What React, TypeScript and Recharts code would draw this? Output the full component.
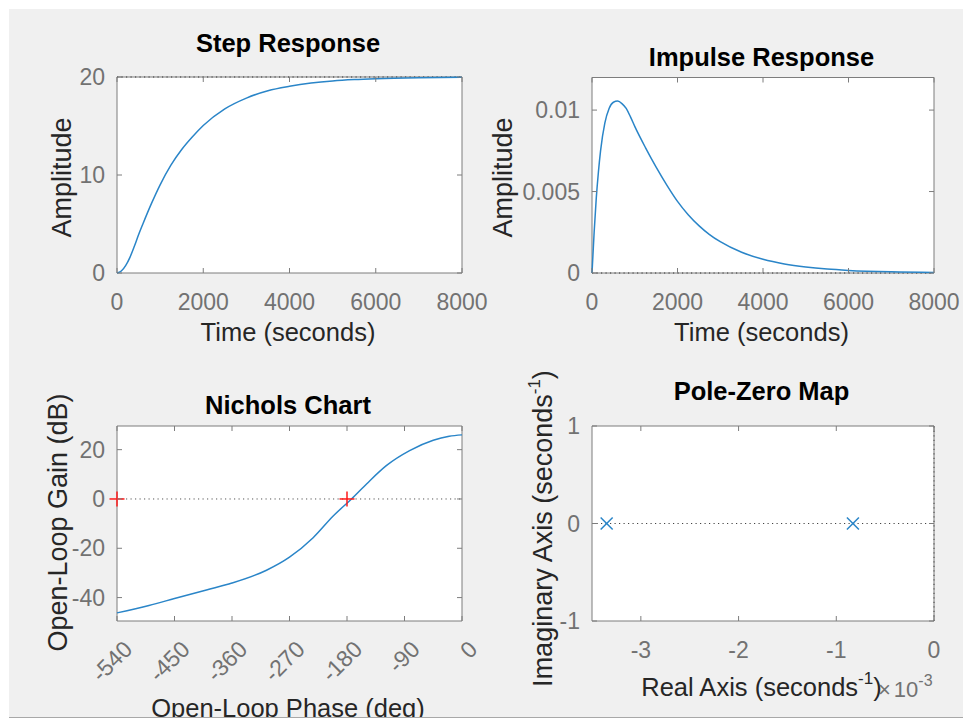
import React from 'react';
import {
  LineChart,
  ComposedChart,
  ScatterChart,
  Line,
  Scatter,
  XAxis,
  YAxis,
  CartesianGrid,
  ReferenceArea,
  ReferenceLine,
  Customized,
} from 'recharts';

const FONT = '"Liberation Sans", Arial, Helvetica, sans-serif';
const BLUE = '#2a85c8';
const RED = '#ff1a1a';
const FRAME = '#7d7d7d';
const TICK_COLOR = '#727272';
const LABEL_COLOR = '#262626';
const DOTTED = '1.2 3.3';

// step response
const STEP_TIME = [0, 100, 200, 300, 400, 500, 600, 800, 1000, 1250, 1500, 1750, 2000, 2500, 3000, 3500, 4000, 4500, 5000, 5500, 6000, 7000, 8000];
const STEP_AMPL = [0, 0.2, 0.75, 1.6, 2.7, 3.9, 5.0, 7.1, 9.0, 11.0, 12.6, 13.9, 15.05, 16.75, 17.85, 18.6, 19.05, 19.38, 19.6, 19.74, 19.83, 19.93, 19.97];
const STEP_FINAL = 20;
const TIME_TICKS = [0, 2000, 4000, 6000, 8000];
const STEP_TICKS = [0, 10, 20];

// impulse response
const IMPULSE_TIME = [0, 50, 100, 150, 200, 300, 400, 500, 600, 700, 800, 900, 1000, 1250, 1500, 1750, 2000, 2250, 2500, 2750, 3000, 3500, 4000, 4500, 5000, 5500, 6000, 7000, 8000];
const IMPULSE_AMPL = [0, 0.0025, 0.0046, 0.0062, 0.0075, 0.0092, 0.0101, 0.01048, 0.01055, 0.0104, 0.0101, 0.00958, 0.009, 0.0077, 0.0065, 0.0054, 0.0044, 0.00358, 0.00291, 0.00236, 0.00192, 0.00127, 0.00084, 0.000553, 0.000365, 0.00024, 0.00016, 0.00007, 0.00003];
const IMPULSE_TICKS = [0, 0.005, 0.01];

// nichols
const NICHOLS_PHASE = [-540, -490, -450, -400, -360, -306, -270, -233, -202, -173, -149, -118, -82, -45, -20, 0];
const NICHOLS_GAIN = [-46.2, -43.2, -40.4, -36.9, -34.1, -28.9, -23.6, -15.7, -7.0, 0.0, 6.2, 13.6, 19.6, 23.8, 25.4, 26.0];
const CRIT_PHASE = [-540, -180];
const CRIT_GAIN = [0, 0];
const PHASE_TICKS = [-540, -450, -360, -270, -180, -90, 0];
const GAIN_TICKS = [-40, -20, 0, 20];

// pole-zero map
const POLE_RE = [-0.00335, -0.00083];
const POLE_IM = [0, 0];
const RE_TICKS = [-0.003, -0.002, -0.001, 0];
const IM_TICKS = [-1, 0, 1];

// figure area and axes boxes, in page pixels
const FIG = { x: 9, y: 9, w: 954, h: 708 };
const AXIS_W = 60;
const AXIS_H = 60;
const TICK_LEN = 5;
const TICK_FONT = 23;
const LABEL_FONT = 25.5;
const YLABEL_FONT = 27;

type Box = { x: number; y: number; w: number; h: number };
const STEP_BOX: Box = { x: 117, y: 77, w: 345, h: 196 };
const IMPULSE_BOX: Box = { x: 592, y: 77.5, w: 342, h: 195.5 };
const NICHOLS_BOX: Box = { x: 117, y: 426, w: 345, h: 195 };
const PZ_BOX: Box = { x: 592, y: 426, w: 342, h: 195 };

const stepData = STEP_TIME.map((t, i) => ({ t, amp: STEP_AMPL[i] }));
const impulseData = IMPULSE_TIME.map((t, i) => ({ t, amp: IMPULSE_AMPL[i] }));
const nicholsData = NICHOLS_PHASE.map((phase, i) => ({ phase, gain: NICHOLS_GAIN[i] }));
const critData = CRIT_PHASE.map((phase, i) => ({ phase, gain: CRIT_GAIN[i] }));
const poleData = POLE_RE.map((re, i) => ({ re, im: POLE_IM[i] }));

const LAYER: React.CSSProperties = { position: 'absolute', left: 0, top: 0 };

function marginFor(b: Box) {
  return {
    top: b.y - FIG.y,
    left: b.x - FIG.x - AXIS_W,
    right: FIG.x + FIG.w - (b.x + b.w),
    bottom: FIG.y + FIG.h - (b.y + b.h) - AXIS_H,
  };
}

const plain = (v: number) => String(v);
const milli = (v: number) => String(Math.round(v * 1000));

// bottom tick label plus inward ticks on the bottom and top edges
function XTick(props: any) {
  const { x, payload, frame, fmt, slanted } = props;
  const top = frame.y - FIG.y;
  const bottom = top + frame.h;
  const label = fmt(payload.value);
  const ax = x + 11;
  const ay = bottom + 24;
  return (
    <g>
      <line x1={x} x2={x} y1={bottom} y2={bottom - TICK_LEN} stroke={FRAME} />
      <line x1={x} x2={x} y1={top} y2={top + TICK_LEN} stroke={FRAME} />
      {slanted ? (
        <text
          x={ax}
          y={ay}
          dy="0.35em"
          textAnchor="end"
          transform={`rotate(-45 ${ax} ${ay})`}
          fill={TICK_COLOR}
          fontSize={TICK_FONT}
          fontFamily={FONT}
        >
          {label}
        </text>
      ) : (
        <text x={x} y={bottom + 37} textAnchor="middle" fill={TICK_COLOR} fontSize={TICK_FONT} fontFamily={FONT}>
          {label}
        </text>
      )}
    </g>
  );
}

// left tick label plus inward ticks on the left and right edges
function YTick(props: any) {
  const { y, payload, frame, fmt } = props;
  const left = frame.x - FIG.x;
  const right = left + frame.w;
  return (
    <g>
      <line x1={left} x2={left + TICK_LEN} y1={y} y2={y} stroke={FRAME} />
      <line x1={right} x2={right - TICK_LEN} y1={y} y2={y} stroke={FRAME} />
      <text x={left - 12} y={y} dy="0.35em" textAnchor="end" fill={TICK_COLOR} fontSize={TICK_FONT} fontFamily={FONT}>
        {fmt(payload.value)}
      </text>
    </g>
  );
}

type CaptionProps = {
  frame: Box;
  heading: string;
  headingBase: number;
  xText: React.ReactNode;
  xBase: number;
  yText: React.ReactNode;
  yBase: number;
  yMid: number;
  extra?: React.ReactNode;
};

function Captions({ frame, heading, headingBase, xText, xBase, yText, yBase, yMid, extra }: CaptionProps) {
  const cx = frame.x + frame.w / 2 - 1.5 - FIG.x;
  return (
    <g fontFamily={FONT}>
      <text x={cx} y={headingBase - FIG.y} textAnchor="middle" fontSize={LABEL_FONT} fontWeight="bold" fill="#000">
        {heading}
      </text>
      <text x={cx} y={xBase - FIG.y} textAnchor="middle" fontSize={LABEL_FONT} fill={LABEL_COLOR}>
        {xText}
      </text>
      <text
        transform={`translate(${yBase - FIG.x} ${yMid - FIG.y}) rotate(-90)`}
        textAnchor="middle"
        fontSize={YLABEL_FONT}
        fill={LABEL_COLOR}
      >
        {yText}
      </text>
      {extra}
    </g>
  );
}

function CritMark(props: any) {
  const { cx, cy } = props;
  const r = 7.5;
  return (
    <g stroke={RED} strokeWidth={1.5}>
      <line x1={cx - r} x2={cx + r} y1={cy} y2={cy} />
      <line x1={cx} x2={cx} y1={cy - r} y2={cy + r} />
    </g>
  );
}

function PoleMark(props: any) {
  const { cx, cy } = props;
  const r = 6;
  return (
    <g stroke={BLUE} strokeWidth={1.5}>
      <line x1={cx - r} y1={cy - r} x2={cx + r} y2={cy + r} />
      <line x1={cx - r} y1={cy + r} x2={cx + r} y2={cy - r} />
    </g>
  );
}

const perSecond = (
  <>
    seconds
    <tspan dy={-12} fontSize={17}>
      -1
    </tspan>
    <tspan dy={12}>)</tspan>
  </>
);

function StepPanel() {
  return (
    <div style={LAYER}>
      <LineChart width={FIG.w} height={FIG.h} data={stepData} margin={marginFor(STEP_BOX)}>
        <CartesianGrid horizontal={false} vertical={false} fill="#ffffff" />
        <XAxis
          dataKey="t"
          type="number"
          domain={[0, 8000]}
          ticks={TIME_TICKS}
          interval={0}
          height={AXIS_H}
          axisLine={false}
          tickLine={false}
          tick={(p: any) => <XTick {...p} frame={STEP_BOX} fmt={plain} />}
        />
        <YAxis
          type="number"
          domain={[0, 20]}
          ticks={STEP_TICKS}
          interval={0}
          width={AXIS_W}
          axisLine={false}
          tickLine={false}
          tick={(p: any) => <YTick {...p} frame={STEP_BOX} fmt={plain} />}
        />
        <ReferenceLine y={STEP_FINAL} stroke="#333" strokeDasharray={DOTTED} />
        <Line dataKey="amp" type="monotone" stroke={BLUE} strokeWidth={1.5} dot={false} isAnimationActive={false} />
        <ReferenceArea x1={0} x2={8000} y1={0} y2={20} fill="none" stroke={FRAME} strokeWidth={1} />
        <Customized
          component={
            <Captions
              frame={STEP_BOX}
              heading="Step Response"
              headingBase={51.7}
              xText="Time (seconds)"
              xBase={340.7}
              yText="Amplitude"
              yBase={71}
              yMid={177.5}
            />
          }
        />
      </LineChart>
    </div>
  );
}

function ImpulsePanel() {
  return (
    <div style={LAYER}>
      <LineChart width={FIG.w} height={FIG.h} data={impulseData} margin={marginFor(IMPULSE_BOX)}>
        <CartesianGrid horizontal={false} vertical={false} fill="#ffffff" />
        <XAxis
          dataKey="t"
          type="number"
          domain={[0, 8000]}
          ticks={TIME_TICKS}
          interval={0}
          height={AXIS_H}
          axisLine={false}
          tickLine={false}
          tick={(p: any) => <XTick {...p} frame={IMPULSE_BOX} fmt={plain} />}
        />
        <YAxis
          type="number"
          domain={[0, 0.012]}
          ticks={IMPULSE_TICKS}
          interval={0}
          width={AXIS_W}
          axisLine={false}
          tickLine={false}
          tick={(p: any) => <YTick {...p} frame={IMPULSE_BOX} fmt={plain} />}
        />
        <ReferenceLine y={0} stroke="#333" strokeDasharray={DOTTED} />
        <Line dataKey="amp" type="monotone" stroke={BLUE} strokeWidth={1.5} dot={false} isAnimationActive={false} />
        <ReferenceArea x1={0} x2={8000} y1={0} y2={0.012} fill="none" stroke={FRAME} strokeWidth={1} />
        <Customized
          component={
            <Captions
              frame={IMPULSE_BOX}
              heading="Impulse Response"
              headingBase={65.5}
              xText="Time (seconds)"
              xBase={340.7}
              yText="Amplitude"
              yBase={512}
              yMid={177.5}
            />
          }
        />
      </LineChart>
    </div>
  );
}

function NicholsPanel() {
  return (
    <div style={LAYER}>
      <ComposedChart width={FIG.w} height={FIG.h} margin={marginFor(NICHOLS_BOX)}>
        <CartesianGrid horizontal={false} vertical={false} fill="#ffffff" />
        <XAxis
          dataKey="phase"
          type="number"
          domain={[-540, 0]}
          ticks={PHASE_TICKS}
          interval={0}
          height={AXIS_H}
          axisLine={false}
          tickLine={false}
          tick={(p: any) => <XTick {...p} frame={NICHOLS_BOX} fmt={plain} slanted />}
        />
        <YAxis
          dataKey="gain"
          type="number"
          domain={[-49.5, 29.6]}
          ticks={GAIN_TICKS}
          interval={0}
          width={AXIS_W}
          axisLine={false}
          tickLine={false}
          tick={(p: any) => <YTick {...p} frame={NICHOLS_BOX} fmt={plain} />}
        />
        <ReferenceLine y={0} stroke="#555" strokeDasharray={DOTTED} />
        <Line
          data={nicholsData}
          dataKey="gain"
          type="monotone"
          stroke={BLUE}
          strokeWidth={1.5}
          dot={false}
          isAnimationActive={false}
        />
        <ReferenceArea x1={-540} x2={0} y1={-49.5} y2={29.6} fill="none" stroke={FRAME} strokeWidth={1} />
        <Scatter data={critData} dataKey="gain" shape={<CritMark />} isAnimationActive={false} />
        <Customized
          component={
            <Captions
              frame={NICHOLS_BOX}
              heading="Nichols Chart"
              headingBase={414}
              xText="Open-Loop Phase (deg)"
              xBase={716.5}
              yText="Open-Loop Gain (dB)"
              yBase={67}
              yMid={522.5}
            />
          }
        />
      </ComposedChart>
    </div>
  );
}

function PoleZeroPanel() {
  const exponent = (
    <text x={878 - FIG.x} y={697 - FIG.y} fill={TICK_COLOR} fontSize={22}>
      ×
      <tspan dx={3}>10</tspan>
      <tspan dy={-11} fontSize={16}>
        -3
      </tspan>
    </text>
  );
  return (
    <div style={LAYER}>
      <ScatterChart width={FIG.w} height={FIG.h} margin={marginFor(PZ_BOX)}>
        <CartesianGrid horizontal={false} vertical={false} fill="#ffffff" />
        <XAxis
          dataKey="re"
          type="number"
          domain={[-0.0035, 0]}
          ticks={RE_TICKS}
          interval={0}
          height={AXIS_H}
          axisLine={false}
          tickLine={false}
          tick={(p: any) => <XTick {...p} frame={PZ_BOX} fmt={milli} />}
        />
        <YAxis
          dataKey="im"
          type="number"
          domain={[-1, 1]}
          ticks={IM_TICKS}
          interval={0}
          width={AXIS_W}
          axisLine={false}
          tickLine={false}
          tick={(p: any) => <YTick {...p} frame={PZ_BOX} fmt={plain} />}
        />
        <ReferenceArea x1={-0.0035} x2={0} y1={-1} y2={1} fill="none" stroke={FRAME} strokeWidth={1} />
        <ReferenceLine y={0} stroke="#444" strokeDasharray={DOTTED} />
        <ReferenceLine x={0} stroke="#444" strokeDasharray={DOTTED} />
        <Scatter data={poleData} shape={<PoleMark />} isAnimationActive={false} />
        <Customized
          component={
            <Captions
              frame={PZ_BOX}
              heading="Pole-Zero Map"
              headingBase={399.5}
              xText={<>Real Axis ({perSecond}</>}
              xBase={696}
              yText={<>Imaginary Axis ({perSecond}</>}
              yBase={552}
              yMid={528.5}
              extra={exponent}
            />
          }
        />
      </ScatterChart>
    </div>
  );
}

export default function App() {
  return (
    <div
      style={{
        position: 'absolute',
        left: 0,
        top: 0,
        width: 963,
        height: 722,
        background: '#ffffff',
        fontFamily: FONT,
        overflow: 'hidden',
      }}
    >
      <div
        style={{
          position: 'absolute',
          left: FIG.x,
          top: FIG.y,
          width: FIG.w,
          height: FIG.h,
          background: '#f0f0f0',
          borderBottom: '1px solid #a8a8a8',
          overflow: 'hidden',
        }}
      >
        <StepPanel />
        <ImpulsePanel />
        <NicholsPanel />
        <PoleZeroPanel />
      </div>
    </div>
  );
}
